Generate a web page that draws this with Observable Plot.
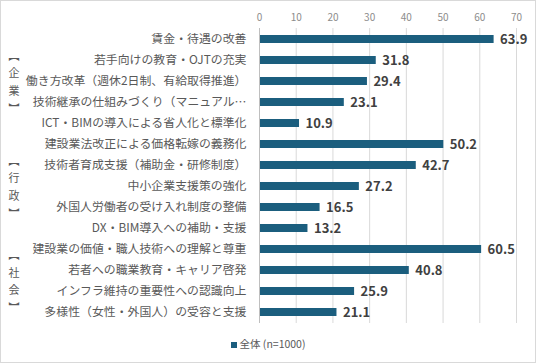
<!DOCTYPE html>
<html><head><meta charset="utf-8">
<script src="https://cdn.jsdelivr.net/npm/d3@7"></script>
<script src="https://cdn.jsdelivr.net/npm/@observablehq/plot@0.6"></script>
<style>
body{margin:0;background:#fff;font-family:"Noto Sans CJK JP","Noto Sans",sans-serif;}
#wrap{position:relative;width:536px;height:363px;overflow:hidden;background:#fff;}
#border{position:absolute;left:0;top:0;width:536px;height:363px;box-sizing:border-box;border:1px solid #d9d9d9;pointer-events:none;}
#legend{position:absolute;left:0;top:336px;width:536px;text-align:center;font-size:10.5px;color:#595959;}
#legend .sw{display:inline-block;width:6px;height:6px;background:#1b5e7e;margin-right:3px;vertical-align:0px;}
svg [aria-label^="x-axis"] text{fill:#8c8c8c;font-size:10px;}
svg [aria-label^="y-axis"] text{fill:#595959;font-size:11.9px;}
</style>
</head><body>
<div id="wrap"><div id="chart"></div><div id="legend"><span class="sw"></span>全体 (n=1000)</div><div id="border"></div></div>
<script>
const categories = [
  "賃金・待遇の改善",
  "若手向けの教育・OJTの充実",
  "働き方改革（週休2日制、有給取得推進）",
  "技術継承の仕組みづくり（マニュアル…",
  "ICT・BIMの導入による省人化と標準化",
  "建設業法改正による価格転嫁の義務化",
  "技術者育成支援（補助金・研修制度）",
  "中小企業支援策の強化",
  "外国人労働者の受け入れ制度の整備",
  "DX・BIM導入への補助・支援",
  "建設業の価値・職人技術への理解と尊重",
  "若者への職業教育・キャリア啓発",
  "インフラ維持の重要性への認識向上",
  "多様性（女性・外国人）の受容と支援"
];
const values = [63.9, 31.8, 29.4, 23.1, 10.9, 50.2, 42.7, 27.2, 16.5, 13.2, 60.5, 40.8, 25.9, 21.1];
const groupNames = ["企業", "行政", "社会"];
const groupSizes = [5, 5, 4];
const seriesName = "全体 (n=1000)";

const data = categories.map((c, i) => ({cat: c, value: values[i]}));

const W = 536, H = 330, mT = 28, mB = 7, pin = 0.62, pout = 0.31;
const step = (H - mT - mB) / (categories.length - pin + 2 * pout);
let start = 0;
const groups = groupNames.map((g, i) => {
  const n = groupSizes[i];
  const mid = start + Math.floor((n - 1) / 2);
  const off = ((n - 1) / 2 - Math.floor((n - 1) / 2)) * step;
  const o = {label: "︻\n" + g.split("").join("\n") + "\n︼", cat: categories[mid], off};
  start += n;
  return o;
});

const chart = Plot.plot({
  width: W, height: H,
  marginLeft: 259, marginRight: 20, marginTop: mT, marginBottom: mB,
  style: {fontFamily: '"Noto Sans CJK JP","Noto Sans",sans-serif', background: "transparent"},
  x: {domain: [0, 70], axis: "top", ticks: 7, tickSize: 0, tickPadding: 8, label: null},
  y: {domain: categories, paddingInner: pin, paddingOuter: pout, tickSize: 0, tickPadding: 13, label: null},
  marks: [
    Plot.ruleX(d3.ticks(10, 70, 6), {stroke: "#d9d9d9", strokeWidth: 1}),
    Plot.barX(data, {x: "value", y: "cat", fill: "#1b5e7e"}),
    Plot.ruleX([0], {stroke: "#bfbfbf"}),
    Plot.text(data, {x: "value", y: "cat", text: d => d.value.toFixed(1), dx: 6, textAnchor: "start", fontWeight: "bold", fontSize: 13, fill: "#404040"}),
    ...groups.map(g => Plot.text([g], {y: "cat", text: "label", frameAnchor: "left", dx: -251, dy: g.off - 1, lineHeight: 1.6, fontSize: 11, fill: "#595959", lineAnchor: "middle"}))
  ]
});
document.getElementById("chart").appendChild(chart);
</script>
</body></html>
